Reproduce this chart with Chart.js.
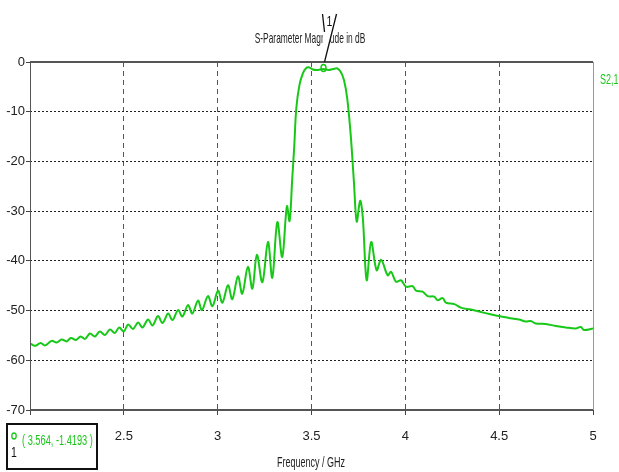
<!DOCTYPE html>
<html>
<head>
<meta charset="utf-8">
<title>S-Parameter Magnitude in dB</title>
<script src="https://cdn.jsdelivr.net/npm/chart.js@4.4.1/dist/chart.umd.min.js"></script>
<style>
  html, body { margin: 0; padding: 0; background: #fff; }
  #wrap { position: relative; width: 619px; height: 472px; }
</style>
</head>
<body>
<div id="wrap"><canvas id="sparam"></canvas></div>
<script>
// frequency in GHz, S2,1 in dB
const freq = [
  2.000, 2.027, 2.057, 2.080, 2.115, 2.142, 2.169, 2.195, 2.218, 2.245,
  2.270, 2.293, 2.319, 2.346, 2.372, 2.399, 2.426, 2.452, 2.475, 2.500,
  2.523, 2.549, 2.576, 2.599, 2.629, 2.653, 2.682, 2.706, 2.736, 2.759,
  2.789, 2.812, 2.842, 2.865, 2.895, 2.916, 2.948, 2.972, 3.002, 3.025,
  3.055, 3.078, 3.108, 3.131, 3.161, 3.185, 3.209, 3.238, 3.268, 3.291,
  3.318, 3.344, 3.369, 3.383, 3.397, 3.408, 3.419, 3.436, 3.454, 3.472,
  3.489, 3.507, 3.534, 3.564, 3.590, 3.615, 3.638, 3.656, 3.673, 3.690,
  3.709, 3.726, 3.741, 3.759, 3.773, 3.794, 3.818, 3.847, 3.871, 3.906,
  3.924, 3.950, 3.977, 4.004, 4.039, 4.057, 4.092, 4.119, 4.154, 4.172,
  4.199, 4.216, 4.261, 4.296, 4.349, 4.394, 4.447, 4.500, 4.571, 4.606,
  4.642, 4.668, 4.695, 4.748, 4.802, 4.855, 4.908, 4.935, 4.952, 5.000
];
const s21 = [
  -56.6, -57.1, -56.5, -57.0, -56.1, -56.4, -55.8, -56.2, -55.5, -55.9,
  -55.2, -55.7, -54.6, -55.2, -54.2, -54.9, -53.8, -54.5, -53.4, -54.2,
  -52.8, -53.7, -52.4, -53.4, -51.8, -53.0, -51.1, -52.5, -50.6, -51.9,
  -49.9, -51.2, -48.9, -50.6, -48.0, -49.9, -47.1, -49.1, -46.0, -48.4,
  -44.9, -47.7, -43.1, -46.6, -41.2, -45.6, -38.8, -44.3, -36.2, -43.4,
  -32.2, -39.2, -29.0, -32.0, -23.7, -17.0, -9.3, -4.6, -2.3, -1.2,
  -1.1, -1.5, -1.6, -1.42, -1.6, -1.4, -1.3, -2.0, -3.6, -7.2,
  -14.7, -24.1, -32.1, -27.9, -31.1, -43.9, -36.2, -41.9, -39.8, -42.9,
  -42.2, -44.2, -43.9, -45.2, -45.1, -46.0, -46.2, -47.1, -47.2, -47.9,
  -47.5, -48.4, -48.7, -49.4, -49.8, -50.2, -50.7, -51.1, -51.6, -51.8,
  -52.2, -52.1, -52.6, -52.7, -53.1, -53.4, -53.6, -53.3, -53.9, -53.6
];
const xTickValues = [2, 2.5, 3, 3.5, 4, 4.5, 5];
const yTickValues = [0, -10, -20, -30, -40, -50, -60, -70];
const markerFreq = 3.564;
const markerDb = -1.4193;

const GREEN = 'rgb(24, 200, 24)';
const FONT = "'Liberation Sans', Arial, sans-serif";
Chart.defaults.font.family = FONT;
Chart.defaults.font.size = 13;
Chart.defaults.color = '#222';

// text squeezed sideways, like the narrow font of the original
function narrowText(ctx, text, x, y, align, size, sx) {
  ctx.save();
  ctx.font = size + 'px ' + FONT;
  ctx.textAlign = align;
  ctx.textBaseline = 'middle';
  ctx.translate(x, y);
  ctx.scale(sx, 1);
  ctx.fillText(text, 0, 0);
  ctx.restore();
}

// titles, frame, marker and the marker box
const decor = {
  id: 'decor',
  afterDraw(chart) {
    const ctx = chart.ctx;
    const a = chart.chartArea;
    const xs = chart.scales.x, ys = chart.scales.y;
    ctx.save();

    // frame
    ctx.strokeStyle = '#555';
    ctx.lineWidth = 2;
    ctx.beginPath();
    ctx.moveTo(a.left, a.top); ctx.lineTo(a.right, a.top);
    ctx.moveTo(a.left, a.bottom); ctx.lineTo(a.right, a.bottom);
    ctx.stroke();
    ctx.lineWidth = 1;
    ctx.beginPath();
    ctx.moveTo(a.left + 0.5, a.top); ctx.lineTo(a.left + 0.5, a.bottom);
    ctx.stroke();
    ctx.strokeStyle = '#999';
    ctx.beginPath();
    ctx.moveTo(a.right + 0.5, a.top); ctx.lineTo(a.right + 0.5, a.bottom);
    ctx.stroke();

    ctx.fillStyle = '#222';
    narrowText(ctx, 'S-Parameter Magnitude in dB', 310, 39, 'center', 15, 0.56);
    narrowText(ctx, 'Frequency / GHz', 311, 463, 'center', 15, 0.6);

    // marker 1 on the curve
    const mx = xs.getPixelForValue(markerFreq);
    const my = ys.getPixelForValue(markerDb);
    ctx.fillStyle = '#fff';
    ctx.beginPath();
    ctx.moveTo(mx - 2, 14); ctx.lineTo(mx + 13, 14); ctx.lineTo(mx + 1, a.top);
    ctx.closePath();
    ctx.fill();
    ctx.strokeStyle = '#111';
    ctx.lineWidth = 1.3;
    ctx.beginPath();
    ctx.moveTo(mx - 1, 14); ctx.lineTo(mx + 1, 32);
    ctx.moveTo(mx + 13, 14); ctx.lineTo(mx + 1, a.top);
    ctx.stroke();
    ctx.fillStyle = '#111';
    narrowText(ctx, '1', mx + 6, 22, 'center', 15, 0.7);
    ctx.strokeStyle = GREEN;
    ctx.lineWidth = 1.5;
    ctx.beginPath();
    ctx.ellipse(mx, my - 1, 2.5, 3.5, 0, 0, Math.PI * 2);
    ctx.stroke();

    // curve name
    ctx.fillStyle = GREEN;
    narrowText(ctx, 'S2,1', 600, 80, 'left', 15, 0.6);

    // marker readout box
    ctx.fillStyle = '#fff';
    ctx.fillRect(6, 423, 92, 47);
    ctx.strokeStyle = '#111';
    ctx.lineWidth = 2;
    ctx.strokeRect(7, 424, 90, 45);
    ctx.strokeStyle = GREEN;
    ctx.lineWidth = 1.3;
    ctx.beginPath();
    ctx.ellipse(14, 436, 2.2, 3, 0, 0, Math.PI * 2);
    ctx.stroke();
    ctx.fillStyle = '#111';
    narrowText(ctx, '1', 14, 453, 'center', 15, 0.7);
    ctx.fillStyle = GREEN;
    narrowText(ctx, '( ' + markerFreq + ', ' + markerDb + ' )', 22, 441, 'left', 14, 0.66);
    ctx.restore();
  }
};

new Chart(document.getElementById('sparam'), {
  type: 'line',
  data: {
    datasets: [{
      label: 'S2,1',
      data: freq.map((f, i) => ({ x: f, y: s21[i] })),
      borderColor: GREEN,
      borderWidth: 2,
      pointRadius: 0,
      tension: 0.35,
      fill: false
    }]
  },
  options: {
    responsive: true,
    maintainAspectRatio: false,
    animation: false,
    layout: { padding: { top: 62, right: 26, left: 0, bottom: 0 } },
    plugins: {
      legend: { display: false },
      tooltip: { enabled: false }
    },
    scales: {
      x: {
        type: 'linear',
        min: 2,
        max: 5,
        afterBuildTicks: s => { s.ticks = xTickValues.map(v => ({ value: v })); },
        afterFit: s => { s.height = 62; },
        ticks: {
          padding: 14,
          color: '#222',
          callback: v => (v === 2 ? '' : String(v))
        },
        grid: {
          color: '#555',
          lineWidth: 1,
          tickLength: 5,
          tickColor: '#444',
          tickBorderDash: [0, 0]
        },
        border: { display: false, dash: [5, 4] }
      },
      y: {
        min: -70,
        max: 0,
        afterBuildTicks: s => { s.ticks = yTickValues.map(v => ({ value: v })); },
        afterFit: s => { s.width = 30; },
        ticks: { padding: 1, color: '#222' },
        grid: {
          color: '#222',
          lineWidth: 1,
          tickLength: 4,
          tickColor: '#444',
          tickBorderDash: [0, 0]
        },
        border: { display: false, dash: [2, 2] }
      }
    }
  },
  plugins: [decor]
});
</script>
</body>
</html>
